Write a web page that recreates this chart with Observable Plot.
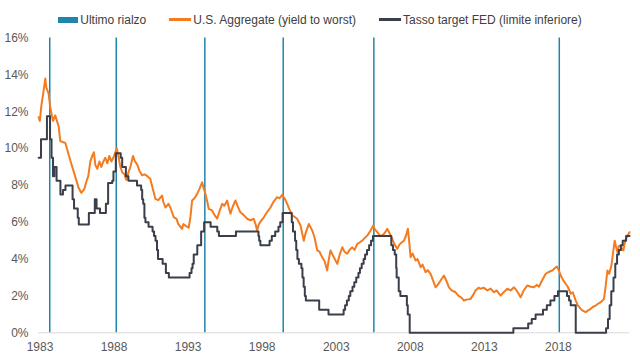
<!DOCTYPE html>
<html><head><meta charset="utf-8">
<script src="https://cdn.jsdelivr.net/npm/d3@7"></script>
<script src="https://cdn.jsdelivr.net/npm/@observablehq/plot@0.6"></script>
<style>
body{margin:0;background:#fff;font-family:"Liberation Sans",Arial,sans-serif;}
#legend{height:30px;box-sizing:border-box;padding-top:9px;display:flex;justify-content:center;align-items:center;font-size:12px;color:#404040;}
.item{display:flex;align-items:center;margin:0 11.5px;}
.sw{display:inline-block;margin-right:2px;}
</style></head><body>
<div id="legend"></div>
<div id="chart"></div>
<script>
// Series names
const seriesNames = ["Ultimo rialzo", "U.S. Aggregate (yield to worst)", "Tasso target FED (limite inferiore)"];

// Last Fed hike of each cycle (decimal years)
const hikeDates = [1984.66, 1989.15, 1995.13, 2000.42, 2006.54, 2019.06];

// U.S. Aggregate yield to worst (%)
const aggDates = [1983.91,1983.99,1984.09,1984.22,1984.36,1984.43,1984.58,1984.70,1984.88,1985.03,1985.26,1985.37,1985.71,1986.05,1986.39,1986.59,1986.79,1986.99,1987.13,1987.26,1987.40,1987.53,1987.64,1987.74,1987.87,1988.01,1988.14,1988.28,1988.41,1988.55,1988.68,1988.82,1988.95,1989.09,1989.19,1989.29,1989.43,1989.56,1989.70,1989.83,1989.97,1990.10,1990.28,1990.41,1990.55,1990.71,1990.89,1991.05,1991.25,1991.45,1991.59,1991.79,1991.99,1992.24,1992.33,1992.47,1992.67,1992.80,1993.03,1993.21,1993.34,1993.59,1993.68,1993.82,1994.04,1994.16,1994.27,1994.43,1994.61,1994.76,1994.95,1995.03,1995.17,1995.30,1995.39,1995.62,1995.78,1995.96,1996.12,1996.30,1996.45,1996.64,1996.72,1996.86,1996.99,1997.20,1997.33,1997.53,1997.74,1997.99,1998.21,1998.43,1998.55,1998.66,1998.78,1998.95,1999.11,1999.29,1999.56,1999.76,2000.01,2000.17,2000.35,2000.51,2000.69,2000.84,2001.03,2001.18,2001.36,2001.59,2001.81,2001.93,2002.15,2002.38,2002.53,2002.72,2002.87,2003.05,2003.21,2003.39,2003.48,2003.61,2003.84,2004.07,2004.22,2004.41,2004.56,2004.74,2004.90,2005.08,2005.24,2005.42,2005.57,2005.76,2005.98,2006.12,2006.32,2006.50,2006.62,2006.77,2006.93,2007.11,2007.26,2007.45,2007.60,2007.78,2007.94,2008.12,2008.28,2008.41,2008.57,2008.68,2008.84,2008.92,2009.02,2009.16,2009.36,2009.49,2009.70,2009.83,2010.03,2010.17,2010.37,2010.51,2010.71,2010.85,2011.05,2011.27,2011.45,2011.61,2011.79,2012.06,2012.26,2012.47,2012.62,2012.80,2013.07,2013.28,2013.41,2013.61,2013.75,2013.95,2014.20,2014.43,2014.65,2014.83,2015.10,2015.30,2015.55,2015.78,2016.00,2016.18,2016.45,2016.66,2016.91,2017.13,2017.35,2017.53,2017.69,2017.87,2018.14,2018.34,2018.59,2018.75,2018.89,2019.02,2019.16,2019.29,2019.49,2019.63,2019.83,2019.97,2020.17,2020.30,2020.51,2020.64,2020.84,2020.98,2021.18,2021.32,2021.52,2021.72,2021.86,2022.08,2022.20,2022.31,2022.43,2022.58,2022.70,2022.80,2022.91,2022.99,2023.07,2023.21,2023.31,2023.39,2023.51,2023.66,2023.80];
const aggValues = [11.7,11.5,12.3,13.0,13.8,13.3,13.0,12.2,11.5,11.8,11.2,10.4,10.3,9.35,8.45,7.9,7.6,7.8,8.2,8.5,9.3,9.6,9.8,9.1,8.9,9.3,9.0,9.3,9.5,9.2,9.6,9.3,9.5,9.8,10.0,9.6,9.0,8.7,8.6,8.3,8.7,9.0,9.6,9.3,9.15,8.8,8.55,8.6,8.5,8.35,7.9,7.27,7.2,7.45,7.1,6.8,7.0,6.8,6.27,6.2,5.9,5.64,5.9,5.82,5.7,6.3,7.18,7.3,7.54,7.8,8.17,7.9,7.54,7.1,6.73,6.64,6.4,6.19,6.6,7.0,6.9,7.18,6.9,6.46,6.8,7.18,6.9,6.54,6.4,6.19,6.1,6.19,5.9,5.55,5.9,6.1,6.27,6.5,6.8,7.1,7.36,7.3,7.49,7.3,7.0,6.7,6.36,6.3,6.19,5.82,5.0,5.4,5.91,5.55,5.2,4.47,4.4,4.1,3.9,3.38,3.9,4.47,4.1,3.74,4.2,4.64,4.4,4.29,4.5,4.64,4.5,4.83,4.9,5.0,5.19,5.3,5.55,5.82,5.6,5.46,5.3,5.28,5.4,5.64,5.4,5.1,4.8,4.56,4.8,4.9,5.0,5.2,5.64,5.0,4.1,4.3,3.92,4.0,3.56,3.7,3.29,3.4,3.2,2.9,2.47,2.6,2.84,3.11,2.8,2.47,2.3,2.2,2.0,1.9,1.75,1.8,1.84,2.1,2.3,2.45,2.39,2.45,2.3,2.4,2.2,2.3,2.02,2.2,2.39,2.3,2.47,2.3,1.93,2.3,2.57,2.5,2.47,2.6,2.5,2.8,3.2,3.3,3.38,3.5,3.6,3.4,3.11,2.9,2.66,2.5,2.12,2.2,1.75,1.5,1.3,1.2,1.12,1.2,1.3,1.4,1.48,1.6,1.66,1.84,2.6,3.38,3.2,3.65,4.4,5.0,4.6,4.37,4.7,4.74,4.5,4.47,5.0,5.28,5.46];

// Fed funds target, lower bound (%), value from each date on
const fedDates = [1983.91,1984.07,1984.47,1984.68,1984.78,1984.88,1984.97,1985.12,1985.38,1985.55,1985.72,1986.20,1986.30,1986.55,1986.62,1987.30,1987.70,1987.82,1988.05,1988.45,1988.60,1988.88,1988.96,1989.12,1989.45,1989.55,1989.80,1989.97,1990.55,1990.83,1990.90,1990.97,1991.05,1991.12,1991.33,1991.60,1991.70,1991.80,1991.90,1991.97,1992.28,1992.50,1992.70,1994.10,1994.23,1994.30,1994.38,1994.62,1994.88,1995.08,1995.52,1995.97,1996.08,1997.23,1998.75,1998.80,1998.88,1999.50,1999.65,1999.88,2000.10,2000.22,2000.38,2001.00,2001.08,2001.22,2001.30,2001.38,2001.48,2001.65,2001.72,2001.80,2001.88,2001.95,2002.85,2003.48,2004.50,2004.60,2004.72,2004.85,2004.95,2005.10,2005.22,2005.35,2005.50,2005.60,2005.72,2005.85,2005.95,2006.08,2006.22,2006.35,2006.48,2007.72,2007.83,2007.95,2008.05,2008.08,2008.22,2008.33,2008.77,2008.83,2008.96,2015.96,2016.96,2017.20,2017.46,2017.96,2018.22,2018.46,2018.73,2018.97,2019.58,2019.72,2019.83,2020.17,2022.22,2022.35,2022.46,2022.57,2022.72,2022.84,2022.96,2023.08,2023.22,2023.34,2023.57,2023.80];
const fedValues = [9.5,10.5,11.75,10.5,9.5,8.5,9.0,8.25,7.5,7.75,8.0,7.25,6.75,6.25,5.875,6.5,7.25,6.75,6.5,7.0,8.125,8.25,8.75,9.75,9.5,9.0,8.5,8.25,8.0,7.75,7.25,7.0,6.25,6.0,5.75,5.5,5.25,5.0,4.5,4.0,3.75,3.25,3.0,3.25,3.5,3.75,4.25,4.75,5.5,6.0,5.75,5.5,5.25,5.5,5.25,5.0,4.75,5.0,5.25,5.5,5.75,6.0,6.5,6.0,5.5,5.0,4.5,4.0,3.75,3.5,3.0,2.5,2.0,1.75,1.25,1.0,1.25,1.5,1.75,2.0,2.25,2.5,2.75,3.0,3.25,3.5,3.75,4.0,4.25,4.5,4.75,5.0,5.25,4.75,4.5,4.25,3.5,3.0,2.25,2.0,1.5,1.0,0.0,0.25,0.5,0.75,1.0,1.25,1.5,1.75,2.0,2.25,2.0,1.75,1.5,0.0,0.25,0.75,1.5,2.25,3.0,3.75,4.25,4.5,4.75,5.0,5.25,5.25];

// Axis ticks
const xTickPositions = [1984, 1989, 1994, 1999, 2004, 2009, 2014, 2019];
const xTickLabels = ["1983", "1988", "1993", "1998", "2003", "2008", "2013", "2018"];
const yTicks = [0, 2, 4, 6, 8, 10, 12, 14, 16];

const colors = ["#1f86ab", "#f47b20", "#3a3f4b"];

// Legend
const legend = document.getElementById("legend");
seriesNames.forEach((name, i) => {
  const item = document.createElement("div");
  item.className = "item";
  const sw = document.createElement("span");
  sw.className = "sw";
  if (i === 0) { sw.style.width = "20px"; sw.style.height = "6px"; }
  else { sw.style.width = "22px"; sw.style.height = "2.5px"; }
  sw.style.background = colors[i];
  const tx = document.createElement("span");
  tx.textContent = name;
  item.appendChild(sw); item.appendChild(tx);
  legend.appendChild(item);
});

const agg = aggDates.map((t, i) => ({t, v: aggValues[i]}));
const fed = fedDates.map((t, i) => ({t, v: fedValues[i]}));

const chart = Plot.plot({
  width: 640, height: 330,
  marginTop: 7.5, marginBottom: 27.7, marginLeft: 38, marginRight: 10.7,
  style: {fontFamily: "'Liberation Sans', Arial, sans-serif", fontSize: "12px", color: "#595959", background: "#fff"},
  x: {domain: [1983.9, 2023.82], label: null},
  y: {domain: [0, 16], label: null},
  marks: [
    Plot.ruleY([0], {stroke: "#d9d9d9", strokeWidth: 1}),
    Plot.ruleX(hikeDates, {x: d => d, y1: 0, y2: 16, stroke: colors[0], strokeWidth: 1.5}),
    Plot.line(agg, {x: "t", y: "v", stroke: colors[1], strokeWidth: 2}),
    Plot.line(fed, {x: "t", y: "v", stroke: colors[2], strokeWidth: 2, curve: "step-after"}),
    Plot.axisY({ticks: yTicks, tickSize: 0, tickPadding: 10, label: null, tickFormat: d => d + "%", fill: "#595959"}),
    Plot.axisX({ticks: xTickPositions, tickSize: 0, tickPadding: 10, label: null, tickFormat: d => xTickLabels[xTickPositions.indexOf(d)], fill: "#595959"})
  ]
});
document.getElementById("chart").appendChild(chart);
</script>
</body></html>
